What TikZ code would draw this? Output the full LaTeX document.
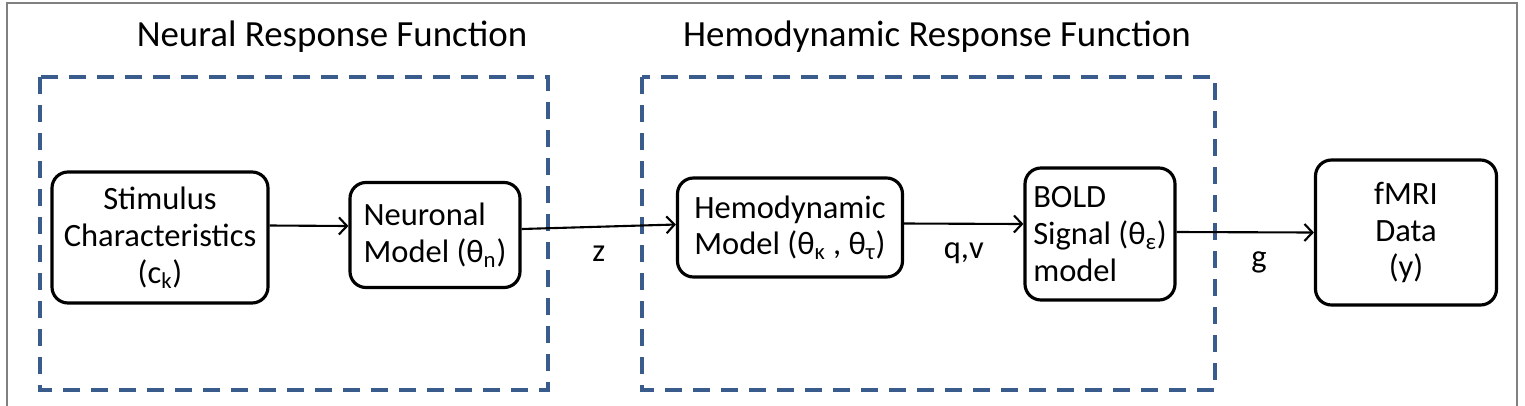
\documentclass[tikz,border=0pt]{standalone}
\usepackage{fontspec}
\setmainfont{Carlito}
\usepackage{xcolor}
\usepackage{tikz}
\usetikzlibrary{arrows.meta, positioning}
\definecolor{dashblue}{RGB}{58,92,140}

\begin{document}
\begin{tikzpicture}[
box/.style={draw, rounded corners=0.32cm, line width=1.8pt, minimum width=3.4cm, minimum height=2.1cm, align=left, inner sep=0pt},
region/.style={draw=dashblue, line width=2.2pt, dash pattern=on 0.34cm off 0.22cm},
arr/.style={-{Straight Barb[length=1.6mm, width=3.4mm]}, line width=1.2pt},
every node/.style={font=\fontsize{18.5}{21}\selectfont}
]
\useasboundingbox (0,0) rectangle (30.5,-8.1);
\draw[gray, line width=1pt] (0.14,-0.06) rectangle (30.34,-8.4);
% the two dashed regions
\draw[region] (0.8,-1.54) rectangle (10.96,-7.8);
\draw[region] (12.84,-1.54) rectangle (24.3,-7.8);
\node[font=\fontsize{21}{24}\selectfont] (neurtitle) at (6.64,-0.74) {Neural Response Function};
\node[font=\fontsize{21}{24}\selectfont] (hemotitle) at (18.74,-0.74) {Hemodynamic Response Function};
% blocks
\node[box, minimum width=4.32cm, minimum height=2.62cm, align=center] (stim) at (3.2,-4.75) {Stimulus\\Characteristics\\(c\textsubscript{k})};
\node[box] (neur) at (8.7,-4.7) {Neuronal\\Model (θ\textsubscript{n})};
\node[box, minimum width=4.5cm, minimum height=1.98cm] (hemo) at (15.8,-4.55) {Hemodynamic\\Model (θ\textsubscript{κ} , θ\textsubscript{τ})};
\node[box, minimum width=3cm, minimum height=2.64cm] (bold) at (22.0,-4.68) {BOLD\\Signal (θ\textsubscript{ε})\\model};
\node[box, minimum width=3.62cm, minimum height=2.9cm, align=center] (fmri) at (28.12,-4.65) {fMRI\\Data\\(y)};
% connectors
\draw[arr] ([yshift=2.4mm]stim.east) -- ([yshift=1.8mm]neur.west);
\draw[arr] ([yshift=1.2mm]neur.east) -- node[below=0.25cm] (zlab) {z} ([yshift=0.6mm]hemo.west);
\draw[arr] ([yshift=0.8mm]hemo.east) -- node[below=0.25cm] (qvlab) {q,v} ([yshift=2mm]bold.west);
\draw[arr] ([yshift=0.4mm]bold.east) -- node[below=0.25cm, pos=0.6] (glab) {g} (fmri.west);
\end{tikzpicture}
\end{document}
